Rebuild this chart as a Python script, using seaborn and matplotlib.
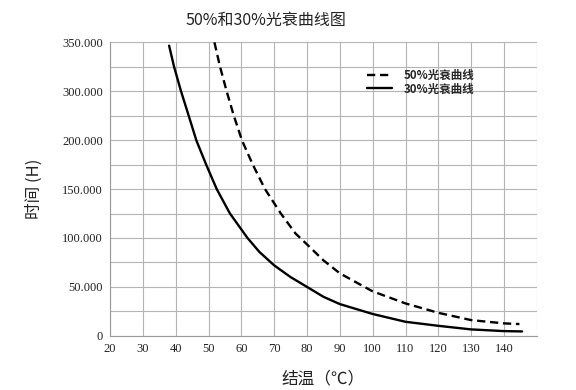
import numpy as np
import pandas as pd
import matplotlib
matplotlib.use("Agg")
import matplotlib.pyplot as plt
import seaborn as sns

# 50% lumen decay curve (dashed)
temp_50 = [51.8, 53.5, 55.5, 57.7, 60.2, 63.5, 67.2, 72, 76.5, 80, 85, 90, 97.5, 100, 110, 120, 130, 140, 144.7]
hours_50 = [350, 321, 292, 262.5, 233, 204, 175, 146, 122, 109, 90, 74.5, 58.3, 53, 38.6, 27.4, 18.7, 14.8, 14]

# 30% lumen decay curve (solid)
temp_30 = [38, 39.5, 41.6, 44, 46.3, 49.3, 52.5, 56.5, 61.8, 65.5, 70, 75, 80, 85, 90, 100, 110, 120, 130, 140, 145.5]
hours_30 = [346, 321, 292, 262, 233, 204, 175, 146, 117, 100, 84, 70, 58.3, 46.5, 37.8, 26, 16.7, 11.9, 7.6, 5.6, 5.2]

series_names = ["50%光衰曲线", "30%光衰曲线"]

x_ticks = [20, 30, 40, 50, 60, 70, 80, 90, 100, 110, 120, 130, 140, 150]
x_labels = ["20", "30", "40", "50", "60", "70", "80", "90", "100", "110", "120", "130", "140", ""]
y_labels = ["0", "50.000", "100.000", "150.000", "200.000", "300.000", "350.000"]


def main():
    sns.set_theme(style="white")
    plt.rcParams["font.family"] = ["Noto Sans CJK SC", "DejaVu Sans"]

    df = pd.concat([
        pd.DataFrame({"temp": temp_50, "hours": hours_50, "curve": series_names[0]}),
        pd.DataFrame({"temp": temp_30, "hours": hours_30, "curve": series_names[1]}),
    ])

    fig = plt.figure(figsize=(5.76, 3.9), dpi=100)
    ax = fig.add_axes([0.191, 0.139, 0.741, 0.7525])

    sns.lineplot(
        data=df, x="temp", y="hours", style="curve",
        style_order=series_names,
        dashes={series_names[0]: (3.5, 2), series_names[1]: ""},
        color="black", linewidth=1.7, ax=ax, sort=False,
    )

    ax.set_xlim(20, 150)
    ax.set_ylim(0, 350)
    ax.set_xticks(x_ticks)
    ax.set_xticklabels(x_labels)
    y_major = np.linspace(0, 350, 7)
    ax.set_yticks(y_major)
    ax.set_yticklabels(y_labels)
    ax.set_yticks((y_major[:-1] + y_major[1:]) / 2, minor=True)
    ax.grid(which="both", color="#b4b4b4", linewidth=0.8)
    ax.tick_params(which="both", length=0, pad=5, colors="#222222")
    for lab in ax.get_xticklabels() + ax.get_yticklabels():
        lab.set_family("Liberation Serif")
        lab.set_fontsize(9)

    for side in ["top", "right"]:
        ax.spines[side].set_visible(False)
    for side in ["left", "bottom"]:
        ax.spines[side].set_color("#999999")
        ax.spines[side].set_linewidth(0.8)

    ax.set_xlabel("结温（℃）", fontsize=12, color="#222222", labelpad=11)
    ax.set_ylabel("时间 (H)", fontsize=12, color="#222222", labelpad=14)
    fig.text(0.462, 0.947, "50%和30%光衰曲线图", fontsize=11.5, ha="center", va="center",
             color="#222222")

    ax.legend(
        title=None, frameon=False, loc="upper left", bbox_to_anchor=(0.578, 0.945),
        prop={"weight": "bold", "size": 8.3}, handlelength=2.2, handletextpad=1.0,
        labelspacing=0.05,
    )

    fig.savefig("out.png", dpi=100)


if __name__ == "__main__":
    main()
